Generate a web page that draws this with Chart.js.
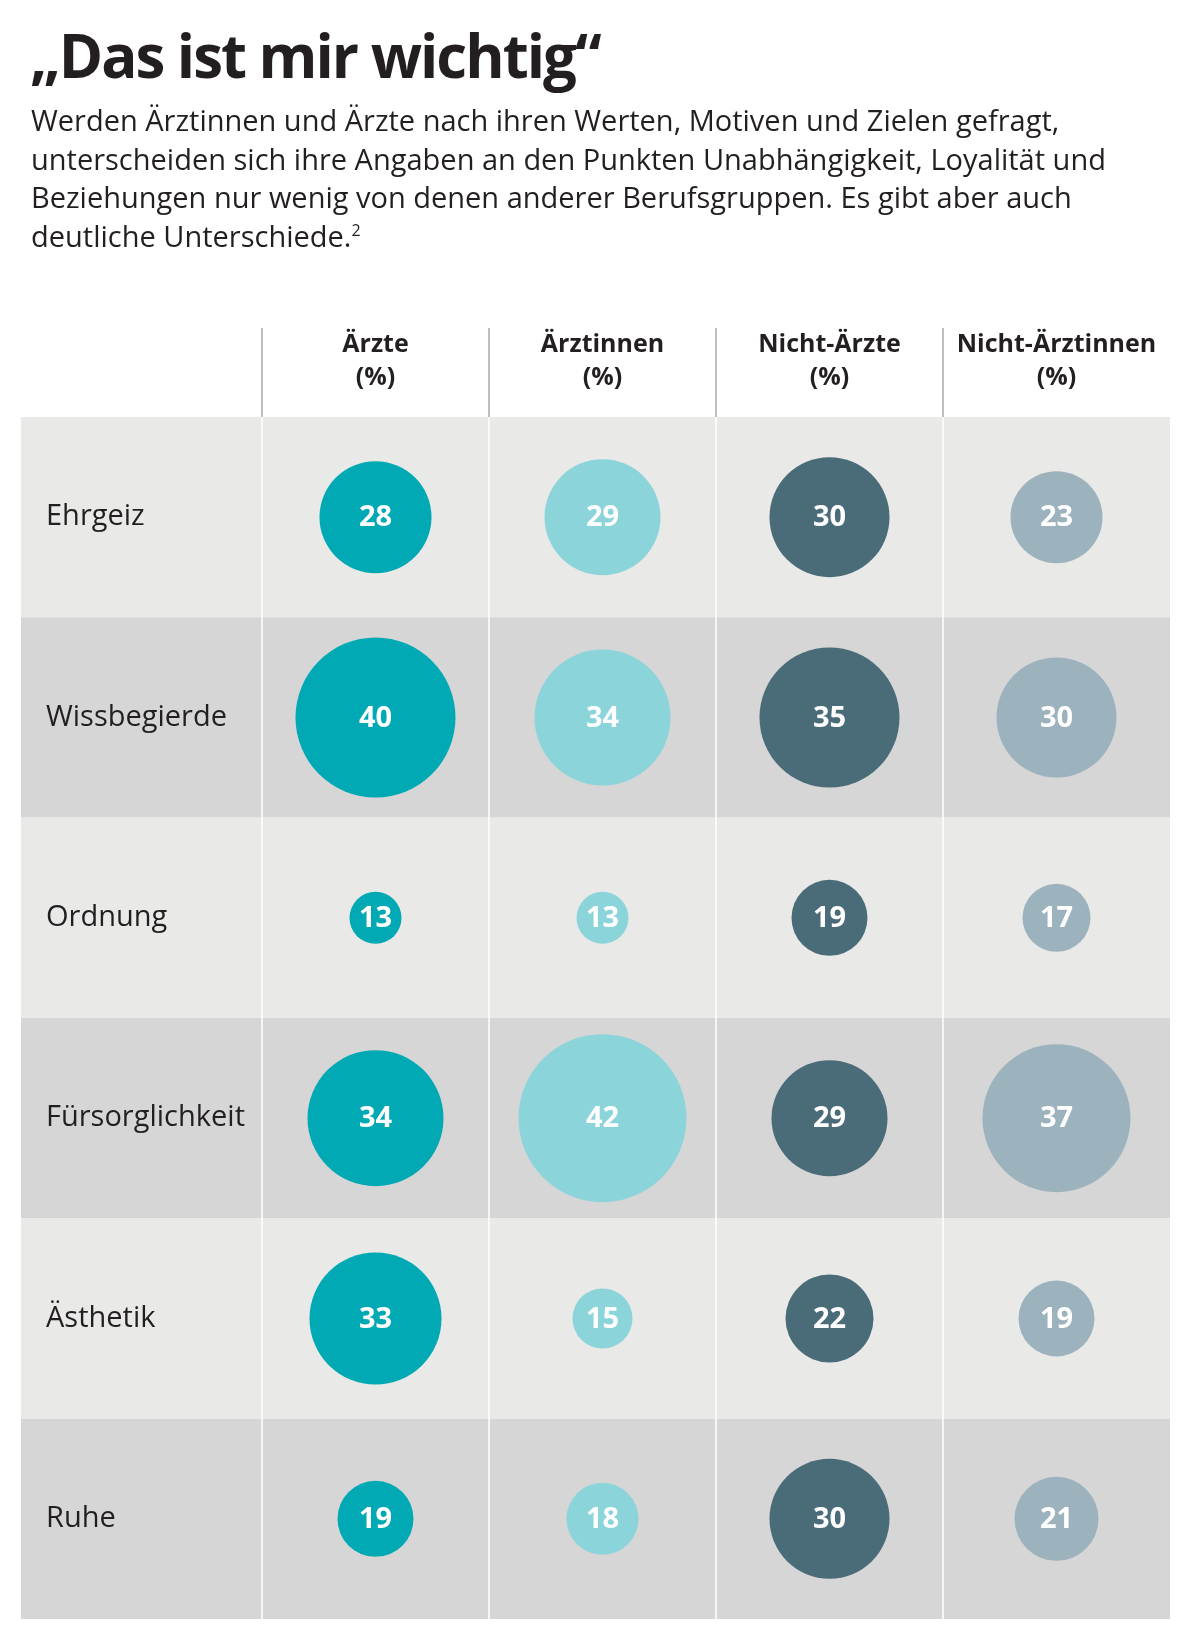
<!DOCTYPE html>
<html lang="de">
<head>
<meta charset="utf-8">
<title>Das ist mir wichtig</title>
<script src="https://cdn.jsdelivr.net/npm/chart.js@4.4.1/dist/chart.umd.min.js"></script>
<style>
  html, body { margin: 0; padding: 0; background: #fff; }
  body { width: 1200px; height: 1644px; position: relative; overflow: hidden; font-family: 'Open Sans', sans-serif; color: #231f20; }
  #wrap { position: absolute; left: 0; top: 0; width: 1200px; height: 1644px; }
  #chart { display: block; width: 1200px; height: 1644px; }
  #titel { position: absolute; left: 30px; top: 23px; font-size: 60px; line-height: 64px; font-weight: 700; letter-spacing: -2px; white-space: nowrap; }
  #text { position: absolute; left: 31px; top: 101px; font-size: 29px; line-height: 38.6px; white-space: nowrap; }
  #text sup { font-size: 16px; vertical-align: 11px; line-height: 0; }
</style>
</head>
<body>
<div id="wrap"><canvas id="chart" width="1200" height="1644"></canvas></div>
<div id="titel">„Das ist mir wichtig“</div>
<div id="text">Werden Ärztinnen und Ärzte nach ihren Werten, Motiven und Zielen gefragt,<br>unterscheiden sich ihre Angaben an den Punkten Unabhängigkeit, Loyalität und<br>Beziehungen nur wenig von denen anderer Berufsgruppen. Es gibt aber auch<br>deutliche Unterschiede.<sup>2</sup></div>
<script>
const KATEGORIEN = ['Ehrgeiz', 'Wissbegierde', 'Ordnung', 'Fürsorglichkeit', 'Ästhetik', 'Ruhe'];
const GRUPPEN = ['Ärzte', 'Ärztinnen', 'Nicht-Ärzte', 'Nicht-Ärztinnen'];

// Angaben in Prozent, Reihenfolge wie KATEGORIEN
const AERZTE = [28, 40, 13, 34, 33, 19];
const AERZTINNEN = [29, 34, 13, 42, 15, 18];
const NICHT_AERZTE = [30, 35, 19, 29, 22, 30];
const NICHT_AERZTINNEN = [23, 30, 17, 37, 19, 21];

const SERIEN = [AERZTE, AERZTINNEN, NICHT_AERZTE, NICHT_AERZTINNEN];
const FARBEN = ['#00a9b3', '#8bd4da', '#4a6b78', '#9cb3be'];

Chart.defaults.font.family = "'Open Sans', sans-serif";
Chart.defaults.color = '#231f20';

// Zeilenbänder und Spaltenlinien hinter allem
const hintergrund = {
  id: 'hintergrund',
  beforeDraw(chart) {
    const { ctx, chartArea, scales: { x, y } } = chart;
    const zeile = chartArea.height / KATEGORIEN.length;
    const spalte = chartArea.width / GRUPPEN.length;
    ctx.save();
    KATEGORIEN.forEach((k, i) => {
      const mitte = y.getPixelForValue(i);
      ctx.fillStyle = i % 2 ? '#d6d6d6' : '#e9e9e8';
      ctx.fillRect(21, mitte - zeile / 2, chartArea.right - 21, zeile);
    });
    ctx.lineWidth = 1.5;
    GRUPPEN.forEach((g, i) => {
      const px = Math.round(x.getPixelForValue(i) - spalte / 2);
      ctx.strokeStyle = '#a9a9a9';
      ctx.beginPath();
      ctx.moveTo(px, x.top);
      ctx.lineTo(px, chartArea.top);
      ctx.stroke();
      ctx.strokeStyle = '#ffffff';
      ctx.beginPath();
      ctx.moveTo(px, chartArea.top);
      ctx.lineTo(px, chartArea.bottom);
      ctx.stroke();
    });
    ctx.restore();
  }
};

// Prozentwerte in die Kreise schreiben
const werte = {
  id: 'werte',
  afterDatasetsDraw(chart) {
    const { ctx } = chart;
    ctx.save();
    ctx.fillStyle = '#ffffff';
    ctx.font = "700 29px 'Open Sans', sans-serif";
    ctx.textAlign = 'center';
    ctx.textBaseline = 'middle';
    chart.data.datasets.forEach((ds, i) => {
      chart.getDatasetMeta(i).data.forEach((el, j) => {
        ctx.fillText(String(ds.data[j].wert), el.x, el.y + 1);
      });
    });
    ctx.restore();
  }
};

function ohnePadding(scale) {
  scale.paddingLeft = 0;
  scale.paddingRight = 0;
  scale.paddingTop = 0;
  scale.paddingBottom = 0;
}

const ctx = document.getElementById('chart').getContext('2d');

new Chart(ctx, {
  type: 'bubble',
  data: {
    datasets: GRUPPEN.map((g, i) => ({
      label: g,
      data: SERIEN[i].map((v, j) => ({ x: g, y: KATEGORIEN[j], r: v * 2, wert: v })),
      backgroundColor: FARBEN[i],
      borderWidth: 0,
    })),
  },
  options: {
    responsive: false,
    animation: false,
    events: [],
    layout: { autoPadding: false, padding: { left: 46, top: 328, right: 30, bottom: 25 } },
    plugins: { legend: { display: false }, tooltip: { enabled: false } },
    scales: {
      x: {
        type: 'category',
        labels: GRUPPEN,
        position: 'top',
        offset: true,
        grid: { display: false, drawTicks: false },
        border: { display: false },
        afterFit(scale) { scale.height = 89; ohnePadding(scale); },
        ticks: {
          padding: 22,
          maxRotation: 0,
          autoSkip: false,
          font: { size: 25, weight: '700', lineHeight: 1.35 },
          callback(value) { return [this.getLabelForValue(value), '(%)']; },
        },
      },
      y: {
        type: 'category',
        labels: KATEGORIEN,
        offset: true,
        grid: { display: false, drawTicks: false },
        border: { display: false },
        afterFit(scale) { scale.width = 216; ohnePadding(scale); },
        ticks: {
          crossAlign: 'far',
          autoSkip: false,
          font: { size: 29 },
        },
      },
    },
  },
  plugins: [hintergrund, werte],
});
</script>
</body>
</html>
